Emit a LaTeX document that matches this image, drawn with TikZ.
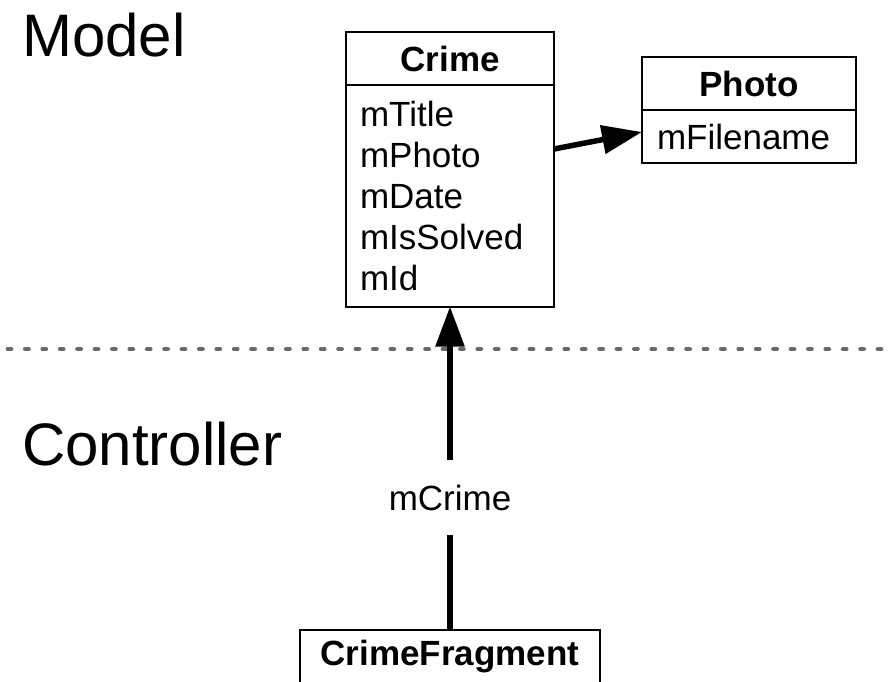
\documentclass[tikz,border=0pt]{standalone}
\usepackage{fontspec}
\setmainfont{Liberation Sans}
\usetikzlibrary{positioning,arrows.meta}
\definecolor{sepgray}{RGB}{105,105,105}
\tikzset{
  classhead/.style={draw, line width=2pt, outer sep=0pt, inner sep=0pt, minimum height=53pt,
                    font=\fontsize{35}{41}\selectfont\bfseries, fill=white},
  classbody/.style={draw, line width=2pt, outer sep=0pt, inner xsep=14pt, inner ysep=0pt,
                    align=left, font=\fontsize{35}{41}\selectfont},
  layer/.style={inner sep=0pt, anchor=base west, font=\fontsize{60}{72}\selectfont},
  link/.style={line width=5.5pt},
  assoc/.style={link, -{Triangle[length=40pt,width=28pt]}},
  sepline/.style={sepgray, line width=4.8pt, line cap=round, dash pattern=on 3pt off 14.4pt},
}

\begin{document}
\begin{tikzpicture}[x=1pt, y=-1pt]
    \useasboundingbox (0,0) rectangle (896,682);
    % layers
    \node[layer] (model) at (22,57) {Model};
    \node[layer] (controller) at (22,465) {Controller};
    \coordinate (sepl) at (8,349);
    \coordinate (sepr) at (888,349);
    \draw[sepline] (sepl) -- (sepr);
    % model classes
    \node[classhead, minimum width=208pt] (crime) at (450,59) {Crime};
    \node[classbody, text width=180pt, minimum height=221pt, below=0pt of crime] (crimefields)
      {mTitle\\ mPhoto\\ mDate\\ mIsSolved\\ mId};
    \node[classhead, minimum width=214pt] (photo) at (749,84) {Photo};
    \node[classbody, text width=184pt, inner xsep=15pt, minimum height=52pt, below=0pt of photo] (photofields)
      {mFilename};
    % controller
    \node[classhead, minimum width=300pt] (fragment) at (450,656.5) {CrimeFragment};
    \node[font=\fontsize{35}{41}\selectfont, inner sep=0pt, outer sep=0pt, minimum height=75pt,
          above=95pt of fragment] (mcrime) {mCrime};
    \draw[assoc] ([yshift=47pt]crimefields.east) -- ([yshift=4.5pt]photofields.west);
    \draw[link] (fragment.north) -- (mcrime.south);
    \draw[assoc] (mcrime.north) -- (crimefields.south);
\end{tikzpicture}
\end{document}
